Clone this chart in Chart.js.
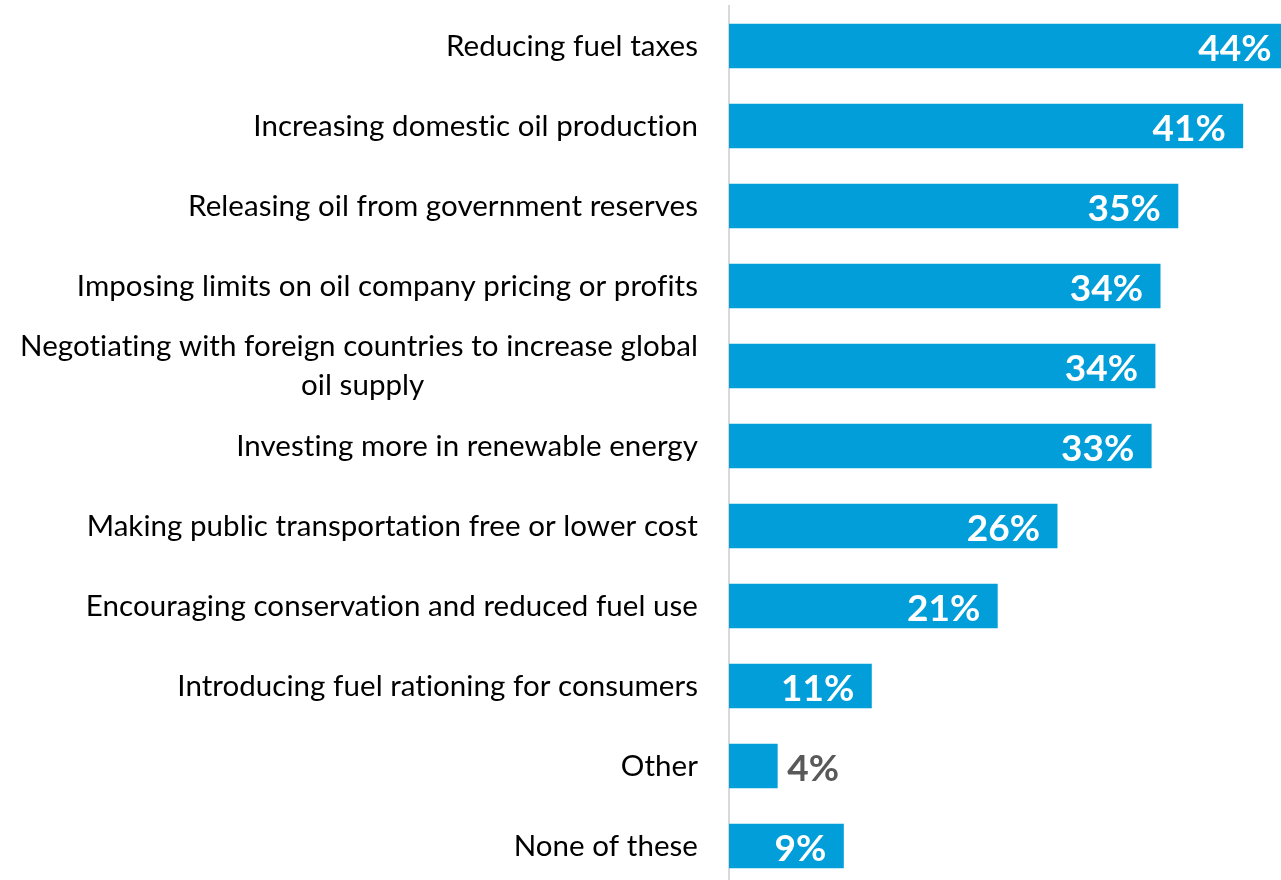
<!DOCTYPE html>
<html>
<head>
<meta charset="utf-8">
<script src="https://cdn.jsdelivr.net/npm/chart.js@4/dist/chart.umd.min.js"></script>
<style>
html,body{margin:0;padding:0;background:#fff;overflow:hidden;}
#wrap{position:relative;width:1281px;height:886px;}
</style>
</head>
<body>
<div id="wrap"><canvas id="c"></canvas></div>
<script>
const categories = [
  "Reducing fuel taxes",
  "Increasing domestic oil production",
  "Releasing oil from government reserves",
  "Imposing limits on oil company pricing or profits",
  ["Negotiating with foreign countries to increase global", "oil supply"],
  "Investing more in renewable energy",
  "Making public transportation free or lower cost",
  "Encouraging conservation and reduced fuel use",
  "Introducing fuel rationing for consumers",
  "Other",
  "None of these"
];
const values = [44.0, 40.4, 35.3, 33.9, 33.5, 33.2, 25.8, 21.1, 11.2, 3.8, 9.0];
const valueLabels = ["44%", "41%", "35%", "34%", "34%", "33%", "26%", "21%", "11%", "4%", "9%"];
const xMax = 43.4;

const FONT = "Lato, 'Open Sans', sans-serif";
const TICK_SIZE = 29.5;
const LS = '0.05px';

// centre the second line of wrapped labels under the first (labels are right-aligned)
const mctx = document.createElement('canvas').getContext('2d');
mctx.font = TICK_SIZE + "px " + FONT;
if ('letterSpacing' in mctx) mctx.letterSpacing = LS;
const spaceW = mctx.measureText(" ").width;
const tickLabels = categories.map(c => {
  if (!Array.isArray(c)) return c;
  const w0 = mctx.measureText(c[0]).width;
  return c.map((line, k) => {
    if (k === 0) return line;
    const off = (w0 - mctx.measureText(line).width) / 2;
    return line + " ".repeat(Math.max(0, Math.round(off / spaceW)));
  });
});

const noLigaturePlugin = {
  id: 'noLigatures',
  beforeDraw(chart) {
    if ('letterSpacing' in chart.ctx) chart.ctx.letterSpacing = LS;
  }
};

const valueLabelPlugin = {
  id: 'valueLabels',
  afterDatasetsDraw(chart) {
    const ctx = chart.ctx;
    const meta = chart.getDatasetMeta(0);
    ctx.save();
    ctx.font = "bold 37px " + FONT;
    ctx.textBaseline = 'middle';
    meta.data.forEach((bar, i) => {
      const txt = valueLabels[i];
      const w = ctx.measureText(txt).width;
      const barW = bar.x - bar.base;
      if (barW > w + 24) {
        ctx.fillStyle = '#ffffff';
        ctx.textAlign = 'right';
        ctx.fillText(txt, Math.min(bar.x, chart.chartArea.right + 9) - 17, bar.y + 3);
      } else {
        ctx.fillStyle = '#595959';
        ctx.textAlign = 'left';
        ctx.fillText(txt, bar.x + 10, bar.y + 3);
      }
    });
    ctx.restore();
  }
};

new Chart(document.getElementById('c'), {
  type: 'bar',
  data: {
    labels: tickLabels,
    datasets: [{
      data: values,
      backgroundColor: '#019ed9',
      borderWidth: 0,
      barThickness: 44
    }]
  },
  options: {
    indexAxis: 'y',
    responsive: true,
    maintainAspectRatio: false,
    animation: false,
    layout: { padding: { top: 6, right: 0, bottom: 0, left: 0 } },
    plugins: { legend: { display: false }, tooltip: { enabled: false } },
    scales: {
      x: {
        display: false,
        min: 0,
        max: xMax
      },
      y: {
        afterFit(scale) {
          scale.width = 729;
          scale.paddingTop = 0;
          scale.paddingBottom = 0;
        },
        grid: { display: false, drawTicks: false },
        border: { display: true, color: '#d9d9d9', width: 2 },
        ticks: {
          padding: 31,
          color: '#000000',
          font: { family: FONT, size: TICK_SIZE, lineHeight: 1.29 },
          autoSkip: false
        }
      }
    }
  },
  plugins: [noLigaturePlugin, valueLabelPlugin]
});
</script>
</body>
</html>
